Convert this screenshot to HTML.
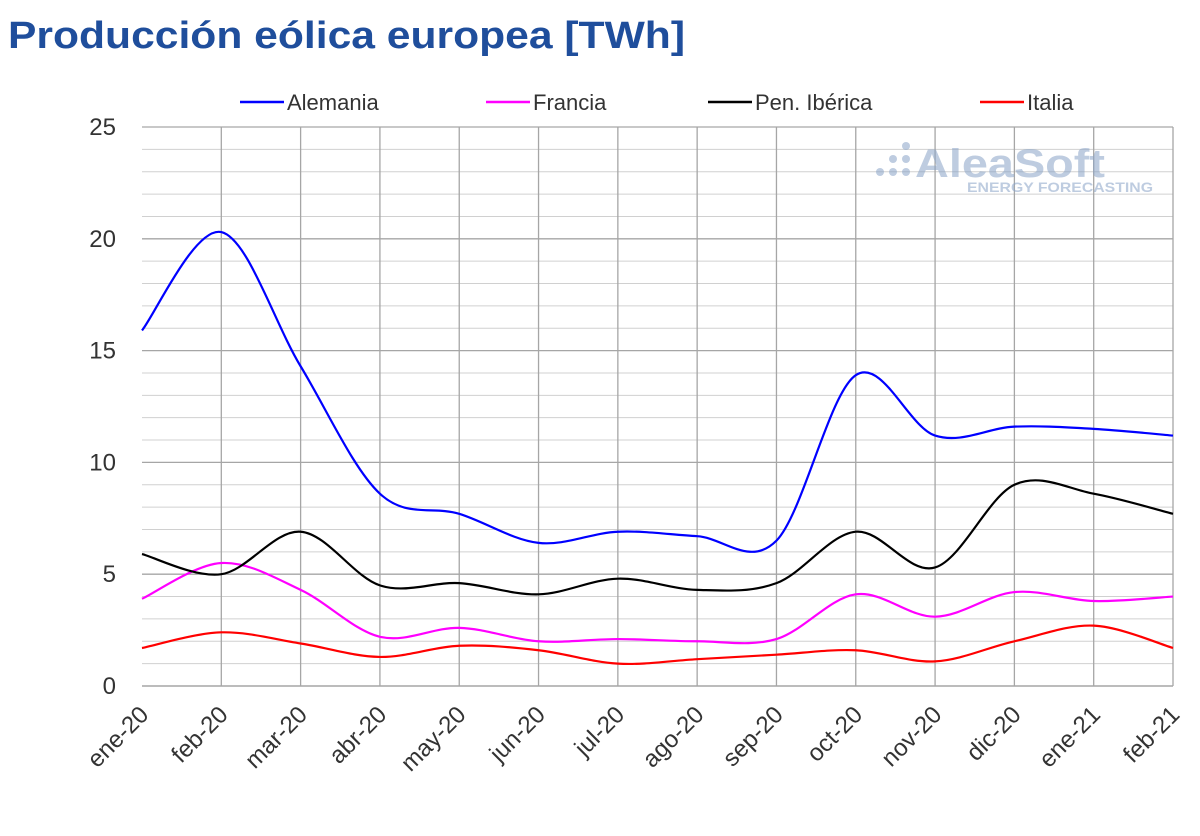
<!DOCTYPE html>
<html><head><meta charset="utf-8"><style>
body{margin:0;background:#fff;width:1200px;height:831px;overflow:hidden;font-family:"Liberation Sans",sans-serif}
</style></head><body>
<svg id="c" width="1200" height="831" xmlns="http://www.w3.org/2000/svg">
<text x="8" y="48" font-size="38" font-weight="bold" fill="#1f4e9c" textLength="677" lengthAdjust="spacingAndGlyphs" font-family="Liberation Sans, sans-serif">Producción eólica europea [TWh]</text>
<g id="grid"></g><g id="series"></g><g id="axes"></g>
<g opacity="0.55">
<circle cx="880" cy="172" r="4" fill="#8aa4c8"/><circle cx="893" cy="172" r="4" fill="#8aa4c8"/><circle cx="906" cy="172" r="4" fill="#8aa4c8"/>
<circle cx="893" cy="159" r="4" fill="#8aa4c8"/><circle cx="906" cy="159" r="4" fill="#8aa4c8"/><circle cx="906" cy="146" r="4" fill="#8aa4c8"/>
<text x="915" y="177" font-size="40" font-weight="bold" fill="#8aa4c8" textLength="190" lengthAdjust="spacingAndGlyphs">AleaSoft</text>
<text x="967" y="192" font-size="14" font-weight="bold" fill="#8aa4c8" textLength="186" lengthAdjust="spacingAndGlyphs">ENERGY FORECASTING</text>
</g>
<g id="legend"></g>
</svg>
<script>
const months=["ene-20","feb-20","mar-20","abr-20","may-20","jun-20","jul-20","ago-20","sep-20","oct-20","nov-20","dic-20","ene-21","feb-21"];
const alemania=[15.9,20.3,14.3,8.6,7.7,6.4,6.9,6.7,6.5,13.9,11.2,11.6,11.5,11.2];
const francia=[3.9,5.5,4.3,2.2,2.6,2.0,2.1,2.0,2.1,4.1,3.1,4.2,3.8,4.0];
const iberica=[5.9,5.0,6.9,4.5,4.6,4.1,4.8,4.3,4.6,6.9,5.3,9.0,8.6,7.7];
const italia=[1.7,2.4,1.9,1.3,1.8,1.6,1.0,1.2,1.4,1.6,1.1,2.0,2.7,1.7];
const yTicks=[0,5,10,15,20,25];
const NS="http://www.w3.org/2000/svg";
const X0=142,X1=1173,Y0=686,Y1=127,YMAX=25;
const xs=i=>X0+(X1-X0)*i/(months.length-1);
const ys=v=>Y0-(Y0-Y1)*v/YMAX;
function mk(t,a,p){const e=document.createElementNS(NS,t);for(const k in a)e.setAttribute(k,a[k]);p.appendChild(e);return e;}
const grid=document.getElementById('grid'),axes=document.getElementById('axes');
for(let v=1;v<=YMAX;v++){const l=mk('line',{x1:X0,x2:X1,y1:ys(v),y2:ys(v),stroke:v%5==0?'#a6a6a6':'#d0d0d0','stroke-width':v%5==0?1.3:1},grid);

}
months.forEach((m,i)=>{if(i>0){const l=mk('line',{x1:xs(i),x2:xs(i),y1:Y1,y2:Y0,stroke:'#a6a6a6','stroke-width':1.3},grid);

}
const tx=xs(i)+8,ty=Y0+30;
const t=mk('text',{x:tx,y:ty,'font-size':24,fill:'#333','text-anchor':'end',transform:`rotate(-45 ${tx} ${ty})`},axes);t.textContent=m;

});
const ax=mk('line',{x1:X0,x2:X1,y1:Y0,y2:Y0,stroke:'#a6a6a6','stroke-width':1.5},axes);


yTicks.forEach(v=>{const t=mk('text',{x:116,y:ys(v)+8,'font-size':24,fill:'#333','text-anchor':'end'},axes);t.textContent=v;

});
function path(d){const p=d.map((v,i)=>[xs(i),ys(v)]);let s=`M${p[0][0]},${p[0][1]}`;
for(let i=0;i<p.length-1;i++){const a=p[Math.max(0,i-1)],b=p[i],c=p[i+1],e=p[Math.min(p.length-1,i+2)];
s+=`C${b[0]+(c[0]-a[0])/6},${b[1]+(c[1]-a[1])/6} ${c[0]-(e[0]-b[0])/6},${c[1]-(e[1]-b[1])/6} ${c[0]},${c[1]}`;}return s;}
const ser=[["Alemania",alemania,"#0000ff","line-alemania",240],["Francia",francia,"#ff00ff","line-francia",486],["Pen. Ibérica",iberica,"#000000","line-iberica",708],["Italia",italia,"#ff0000","line-italia",980]];
const sg=document.getElementById('series'),lg=document.getElementById('legend');
ser.forEach(s=>{const p=mk('path',{d:path(s[1]),fill:'none',stroke:s[2],'stroke-width':2.2},sg);


const g=mk('g',{},lg);


mk('line',{x1:s[4],x2:s[4]+44,y1:102,y2:102,stroke:s[2],'stroke-width':2.5},g);
const t=mk('text',{x:s[4]+47,y:110,'font-size':22,fill:'#333'},g);t.textContent=s[0];});
</script>
</body></html>
